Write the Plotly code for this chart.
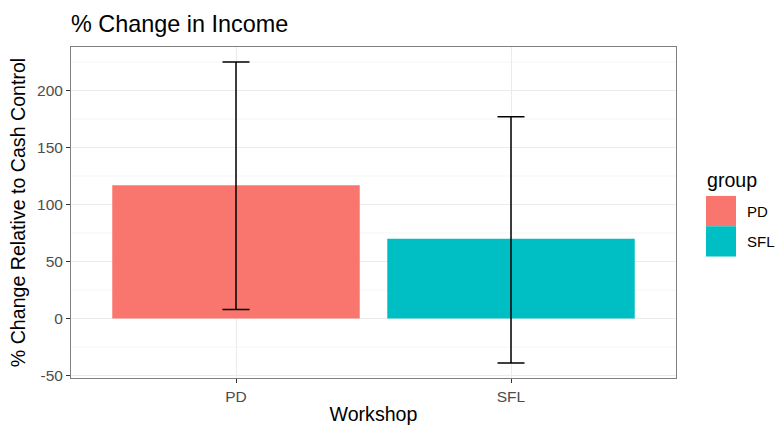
import plotly.graph_objects as go

workshops = ["PD", "SFL"]
groups = ["PD", "SFL"]
pct_change = [117, 70]
err_upper = [225, 177]
err_lower = [8, -39]
colors = ["#F8766D", "#00BFC4"]
y_ticks = [-50, 0, 50, 100, 150, 200]

FONT = "Liberation Sans, Arial, Helvetica, sans-serif"

lo = min(min(err_lower), 0)
hi = max(max(err_upper), max(pct_change))
pad = (hi - lo) * 0.05
y_range = [lo - pad, hi + pad]

fig = go.Figure()
for i, w in enumerate(workshops):
    fig.add_trace(go.Bar(
        x=[i], y=[pct_change[i]], width=0.9,
        marker=dict(color=colors[i], line=dict(width=0)),
        name=groups[i], showlegend=False,
        error_y=dict(type="data", symmetric=False,
                     array=[err_upper[i] - pct_change[i]],
                     arrayminus=[pct_change[i] - err_lower[i]],
                     color="black", thickness=1.5, width=13.5),
        hoverinfo="skip",
    ))

minor_vals = [v + 25 for v in y_ticks[:-1]] + [y_ticks[-1] + 25, y_ticks[0] - 25]
shapes = []
for v in minor_vals:
    if y_range[0] < v < y_range[1]:
        shapes.append(dict(type="line", xref="paper", yref="y", x0=0, x1=1, y0=v, y1=v,
                           line=dict(color="#F4F4F4", width=0.8), layer="below"))

# legend (manual, ggplot-style keys)
ann = [dict(text="group", xref="paper", yref="paper", x=1.048, y=0.597, xanchor="left",
            yanchor="middle", showarrow=False, font=dict(size=19.6, color="black", family=FONT))]
key_top = 0.550
key_h = 0.0915
for i, g in enumerate(groups):
    y1 = key_top - i * key_h
    y0 = y1 - key_h
    shapes.append(dict(type="rect", xref="paper", yref="paper", x0=1.0496, x1=1.0992,
                       y0=y0, y1=y1, fillcolor=colors[i], line=dict(width=0)))
    ann.append(dict(text=g, xref="paper", yref="paper", x=1.1135, y=(y0 + y1) / 2,
                    xanchor="left", yanchor="middle", showarrow=False,
                    font=dict(size=15, color="black", family=FONT)))

fig.update_layout(
    width=775, height=425,
    margin=dict(l=71, r=99, t=47, b=47, autoexpand=False),
    paper_bgcolor="white", plot_bgcolor="white",
    font=dict(family=FONT, color="black"),
    title=dict(text="% Change in Income", x=71 / 775, xanchor="left", y=1 - 24 / 425,
               yanchor="middle", font=dict(size=23.4, color="black", family=FONT)),
    showlegend=False,
    shapes=shapes,
    annotations=ann,
    bargap=0.1,
)
fig.update_xaxes(
    range=[-0.6, 1.6], tickvals=[0, 1], ticktext=workshops,
    showgrid=True, gridcolor="#EBEBEB", gridwidth=1.1,
    showline=True, linecolor="#808080", linewidth=1, mirror=True,
    ticks="outside", ticklen=4, tickcolor="#333333", tickwidth=1,
    tickfont=dict(size=15.5, color="#4D4D4D", family=FONT),
    title=dict(text="Workshop", font=dict(size=19.6, color="black", family=FONT), standoff=12),
    zeroline=False, fixedrange=True,
)
fig.update_yaxes(
    range=y_range, tickvals=y_ticks, ticktext=[str(v) for v in y_ticks],
    showgrid=True, gridcolor="#EBEBEB", gridwidth=1.1,
    showline=True, linecolor="#808080", linewidth=1, mirror=True,
    ticks="outside", ticklen=4, tickcolor="#333333", tickwidth=1,
    tickfont=dict(size=15.5, color="#4D4D4D", family=FONT),
    title=dict(text="% Change Relative to Cash Control",
               font=dict(size=19.6, color="black", family=FONT), standoff=6),
    zeroline=False, fixedrange=True,
)

fig.write_html("out.html", config={"displayModeBar": False},
               post_script="document.body.style.margin='0';")
